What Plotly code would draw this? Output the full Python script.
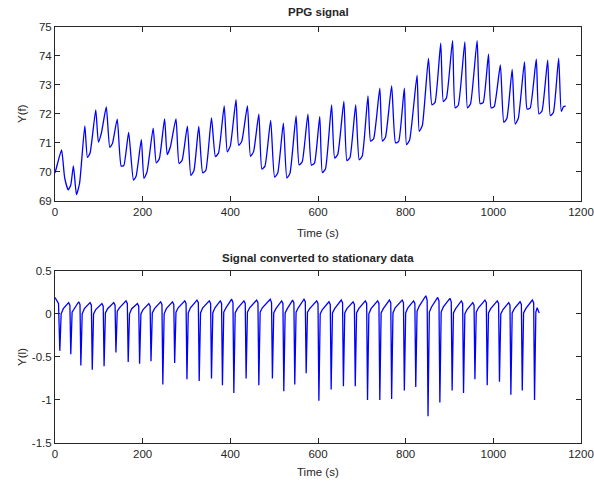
import plotly.graph_objects as go
from plotly.subplots import make_subplots

# PPG signal: read points (time, value) — troughs, shoulders, peaks
ppg_time = [0, 6, 15, 22, 30, 36, 42, 49, 56, 68, 74, 80, 93, 99, 106, 117, 125, 131, 142, 151,
            157, 168, 179, 185, 197, 203, 210, 224, 231, 238, 250, 256, 263, 276, 283, 290, 302, 310,
            317, 328, 337, 344, 357, 366, 373, 386, 393, 400, 413, 419, 426, 439, 446, 453, 465, 472,
            479, 492, 501, 508, 521, 529, 536, 550, 557, 564, 577, 585, 592, 604, 610, 617, 631, 638,
            645, 659, 666, 673, 686, 694, 701, 714, 720, 727, 741, 747, 754, 768, 777, 784, 797, 802,
            809, 826, 831, 838, 852, 860, 867, 880, 886, 893, 907, 913, 920, 935, 941, 948, 963, 970,
            977, 989, 995, 1002, 1016, 1024, 1031, 1043, 1050, 1057, 1071, 1077, 1084, 1098, 1104,
            1111, 1124, 1130, 1137, 1149, 1155, 1160, 1165]
ppg_value = [69.96, 70.3, 70.76, 69.8, 69.38, 69.55, 70.21, 69.22, 69.6, 71.59, 70.5, 70.65, 72.14,
             71.03, 71.35, 72.24, 70.85, 70.98, 71.82, 70.2, 70.22, 71.36, 69.72, 69.85, 71.11, 69.78,
             70.0, 71.51, 70.31, 70.45, 71.83, 70.6, 70.85, 71.83, 70.29, 70.4, 71.58, 69.88, 70.05,
             71.57, 69.97, 70.05, 71.86, 70.53, 70.65, 72.28, 70.69, 70.9, 72.49, 70.92, 71.05, 72.28,
             70.54, 70.7, 71.99, 70.1, 70.2, 71.78, 69.82, 69.95, 71.68, 69.79, 69.95, 71.93, 70.24,
             70.35, 71.99, 70.23, 70.3, 71.91, 69.98, 70.1, 72.31, 70.48, 70.6, 72.43, 70.39, 70.5,
             72.31, 70.42, 70.55, 72.62, 71.06, 71.15, 72.89, 71.06, 71.2, 72.97, 71.0, 71.05, 72.89,
             70.94, 71.1, 73.34, 71.4, 71.6, 73.92, 72.31, 72.4, 74.44, 72.43, 72.55, 74.53, 72.21,
             72.3, 74.49, 72.21, 72.35, 74.53, 72.35, 72.4, 74.06, 72.21, 72.25, 73.69, 71.71, 71.85,
             73.54, 71.65, 71.85, 73.80, 72.17, 72.2, 73.89, 72.0, 72.1, 73.86, 71.94, 72.05, 73.92,
             72.09, 72.25, 72.27]

# Stationary signal: read points (time, value)
stat_time = [0, 4, 8, 11,
             14, 19, 31, 34, 36, 39, 44, 54, 57, 59, 62, 67, 80, 83, 85, 88, 93, 107, 110, 112,
             115, 120, 134, 137, 139, 142, 147, 162, 165, 167, 170, 175, 188, 191, 193, 196, 201, 214, 217, 219,
             222, 227, 241, 244, 246, 249, 254, 268, 271, 273, 276, 281, 296, 299, 301, 304, 309, 324, 327, 329,
             332, 337, 352, 355, 357, 360, 365, 377, 380, 382, 385, 390, 403, 406, 408, 411, 416, 431, 434, 436,
             439, 444, 460, 463, 465, 468, 473, 491, 494, 496, 499, 504, 517, 520, 522, 525, 530, 542, 545, 547,
             550, 555, 568, 571, 573, 576, 581, 597, 600, 602, 605, 610, 625, 628, 630, 633, 638, 653, 656, 658,
             661, 666, 680, 683, 685, 688, 693, 708, 711, 713, 716, 721, 736, 739, 741, 744, 749, 763, 766, 768,
             771, 776, 792, 795, 797, 800, 805, 818, 821, 823, 826, 831, 846, 849, 851, 854, 859, 873, 876, 878,
             881, 886, 901, 904, 906, 909, 914, 927, 930, 932, 935, 940, 953, 956, 958, 961, 966, 981, 984, 986,
             989, 994, 1009, 1012, 1014, 1017, 1022, 1035, 1038, 1040, 1043, 1048, 1061, 1064, 1066,
             1069, 1074, 1089, 1092, 1094, 1097, 1100, 1103, 1105]
stat_value = [0.19, 0.16, 0.12, -0.43,
              0.0, 0.06, 0.13, 0.10, -0.47, 0.02, 0.06, 0.14, 0.11, -0.60, 0.0, 0.06, 0.13, 0.10, -0.65,
              0.0, 0.05, 0.12, 0.09, -0.61, 0.01, 0.06, 0.13, 0.10, -0.45, 0.03, 0.07, 0.15, 0.12, -0.56,
              0.0, 0.06, 0.12, 0.09, -0.58, 0.0, 0.05, 0.12, 0.09, -0.55, 0.01, 0.06, 0.14, 0.11, -0.82,
              0.0, 0.06, 0.14, 0.11, -0.57, 0.02, 0.07, 0.15, 0.12, -0.76, 0.01, 0.07, 0.16, 0.13, -0.78,
              0.01, 0.07, 0.15, 0.12, -0.75, 0.01, 0.07, 0.15, 0.12, -0.83, 0.02, 0.07, 0.17, 0.13, -0.92,
              0.01, 0.06, 0.15, 0.12, -0.75, 0.02, 0.07, 0.16, 0.13, -0.83, 0.02, 0.07, 0.17, 0.13, -0.75,
              0.01, 0.06, 0.15, 0.12, -0.90, 0.01, 0.06, 0.16, 0.13, -0.82, 0.02, 0.07, 0.17, 0.14, -0.69,
              0.02, 0.06, 0.15, 0.12, -1.01, 0.0, 0.05, 0.14, 0.11, -0.88, 0.01, 0.06, 0.16, 0.13, -0.84,
              0.01, 0.06, 0.14, 0.11, -0.84, 0.01, 0.06, 0.15, 0.12, -1.00, 0.0, 0.06, 0.15, 0.12, -1.00,
              0.01, 0.06, 0.16, 0.13, -0.99, 0.01, 0.07, 0.16, 0.13, -0.89, 0.01, 0.07, 0.15, 0.12, -0.85,
              0.03, 0.09, 0.21, 0.16, -1.19, 0.02, 0.08, 0.19, 0.15, -1.03, 0.02, 0.08, 0.18, 0.14, -0.89,
              0.01, 0.06, 0.15, 0.12, -0.92, 0.0, 0.05, 0.13, 0.10, -0.76, 0.02, 0.07, 0.16, 0.13, -0.83,
              0.01, 0.06, 0.15, 0.12, -0.79, 0.0, 0.05, 0.13, 0.10, -0.94, 0.01, 0.06, 0.14, 0.11, -0.89,
              0.01, 0.06, 0.16, 0.13, -1.00, 0.02, 0.07, 0.03, 0.01]

x_ticks = [0, 200, 400, 600, 800, 1000, 1200]
top_y_ticks = [69, 70, 71, 72, 73, 74, 75]
bot_y_ticks = [-1.5, -1, -0.5, 0, 0.5]
bot_y_labels = ["-1.5", "-1", "-0.5", "0", "0.5"]

FONT = "Liberation Sans, Arial, Helvetica, sans-serif"
AXC = "#262626"

fig = make_subplots(rows=2, cols=1, vertical_spacing=0.168)
fig.add_trace(go.Scatter(x=ppg_time, y=ppg_value, mode="lines",
                         line=dict(color="#0000ff", width=1.3, shape="spline", smoothing=0.5)),
              row=1, col=1)
fig.add_trace(go.Scatter(x=stat_time, y=stat_value, mode="lines",
                         line=dict(color="#0000ff", width=1.3)),
              row=2, col=1)

axis_common = dict(showgrid=False, zeroline=False, showline=True, linecolor=AXC, linewidth=1,
                   mirror="ticks", ticks="inside", ticklen=5, tickcolor=AXC, tickwidth=1,
                   automargin=False,
                   tickfont=dict(family=FONT, size=11.5, color=AXC))
fig.update_xaxes(axis_common)
fig.update_yaxes(axis_common)
fig.update_xaxes(range=[0, 1200], tickvals=x_ticks, row=1, col=1)
fig.update_xaxes(range=[0, 1200], tickvals=x_ticks, row=2, col=1)
fig.update_yaxes(range=[69, 75], tickvals=top_y_ticks, row=1, col=1)
fig.update_yaxes(range=[-1.5, 0.5], tickvals=bot_y_ticks, ticktext=bot_y_labels, row=2, col=1)
fig.update_layout(xaxis=dict(domain=[0, 1]), yaxis=dict(domain=[0.582, 1.0]),
                  xaxis2=dict(domain=[0, 1]), yaxis2=dict(domain=[0.0, 0.414]))

annots = [
    dict(text="<b>PPG signal</b>", x=0.5, y=1.036, size=11.5),
    dict(text="<b>Signal converted to stationary data</b>", x=0.5, y=0.445, size=11.5),
    dict(text="Time (s)", x=0.5, y=0.505, size=11.5),
    dict(text="Time (s)", x=0.5, y=-0.0697, size=11.5),
]
for a in annots:
    fig.add_annotation(text=a["text"], x=a["x"], y=a["y"], xref="paper", yref="paper",
                       xanchor="center", yanchor="middle", showarrow=False,
                       font=dict(family=FONT, size=a["size"], color=AXC))
for txt, yy in [("Y(f)", 0.791), ("Y(l)", 0.207)]:
    fig.add_annotation(text=txt, x=-0.0627, y=yy, xref="paper", yref="paper", textangle=-90,
                       xanchor="center", yanchor="middle", showarrow=False,
                       font=dict(family=FONT, size=11.5, color=AXC))

fig.update_layout(width=594, height=485, margin=dict(l=55, r=13, t=27, b=42, autoexpand=False),
                  paper_bgcolor="white", plot_bgcolor="white", showlegend=False)
fig.write_html("out.html")
